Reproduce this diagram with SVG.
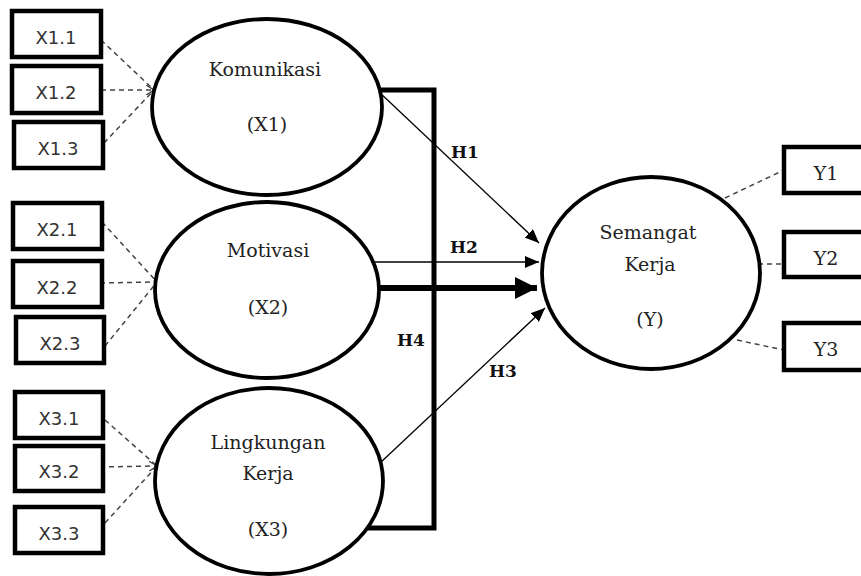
<svg xmlns="http://www.w3.org/2000/svg" width="861" height="576" viewBox="0 0 861 576">
<style>
.box{fill:#fff;stroke:#000;stroke-width:4.5}
.ell{fill:#fff;stroke:#000;stroke-width:3.8}
.bl{font-family:"DejaVu Sans",Verdana,sans-serif;font-size:18px;fill:#333;text-anchor:middle}
.yl{font-family:"DejaVu Serif","Liberation Serif",serif;font-size:19px;fill:#222;text-anchor:middle}
.et{font-family:"DejaVu Serif","Liberation Serif",serif;font-size:19px;fill:#222;text-anchor:middle}
.hl{font-family:"DejaVu Serif","Liberation Serif",serif;font-size:17px;font-weight:bold;fill:#111;text-anchor:middle}
.dash{stroke:#444;stroke-width:1.5;stroke-dasharray:5 4;fill:none}
.thin{stroke:#000;stroke-width:1.3;fill:none}
</style>
<defs>
<marker id="arr" markerUnits="userSpaceOnUse" markerWidth="16" markerHeight="12" refX="14" refY="6" orient="auto">
<path d="M0,0 L14,6 L0,12 Z" fill="#000"/>
</marker>
<marker id="arrBig" markerUnits="userSpaceOnUse" markerWidth="24" markerHeight="22" refX="22" refY="11" orient="auto">
<path d="M0,0 L22,11 L0,22 Z" fill="#000"/>
</marker>
<marker id="open" markerUnits="userSpaceOnUse" markerWidth="10" markerHeight="10" refX="8" refY="5" orient="auto">
<path d="M0,0 L8,5 L0,10" fill="none" stroke="#444" stroke-width="1.3"/>
</marker>
</defs>

<g id="connectors">
<line class="dash" x1="101" y1="40" x2="154" y2="90"/>
<line class="dash" x1="101" y1="90" x2="154" y2="90" marker-end="url(#open)"/>
<line class="dash" x1="104" y1="143" x2="154" y2="90"/>
<line class="dash" x1="102" y1="222" x2="157" y2="282"/>
<line class="dash" x1="100" y1="283" x2="157" y2="282"/>
<line class="dash" x1="105" y1="346" x2="157" y2="282"/>
<line class="dash" x1="105" y1="420" x2="157" y2="466"/>
<line class="dash" x1="100" y1="467" x2="157" y2="466" marker-end="url(#open)"/>
<line class="dash" x1="105" y1="523" x2="157" y2="466"/>
<line class="dash" x1="725" y1="198" x2="784" y2="170"/>
<line class="dash" x1="758" y1="264" x2="784" y2="264"/>
<line class="dash" x1="737" y1="340" x2="784" y2="350"/>
<path d="M370 90 H434 V528 H360" fill="none" stroke="#000" stroke-width="5"/>
<line class="thin" x1="378" y1="91" x2="539" y2="243" marker-end="url(#arr)"/>
<line class="thin" x1="375" y1="262" x2="539" y2="262" marker-end="url(#arr)"/>
<line x1="375" y1="288" x2="537" y2="288" stroke="#000" stroke-width="6" marker-end="url(#arrBig)"/>
<line class="thin" x1="380" y1="463" x2="545" y2="308" marker-end="url(#arr)"/>
<text class="hl" x="465" y="158">H1</text>
<text class="hl" x="464" y="253">H2</text>
<text class="hl" x="411" y="346">H4</text>
<text class="hl" x="503" y="377">H3</text>
</g>

<g id="X1.1"><rect class="box" x="12" y="11" width="89" height="46"/><text class="bl" x="56" y="44">X1.1</text></g>
<g id="X1.2"><rect class="box" x="12" y="66" width="89" height="47"/><text class="bl" x="56" y="99">X1.2</text></g>
<g id="X1.3"><rect class="box" x="14" y="122" width="89" height="46"/><text class="bl" x="58" y="155">X1.3</text></g>
<g id="X2.1"><rect class="box" x="13" y="203" width="89" height="46"/><text class="bl" x="57" y="236">X2.1</text></g>
<g id="X2.2"><rect class="box" x="13" y="261" width="89" height="46"/><text class="bl" x="57" y="294">X2.2</text></g>
<g id="X2.3"><rect class="box" x="16" y="317" width="88" height="46"/><text class="bl" x="60" y="350">X2.3</text></g>
<g id="X3.1"><rect class="box" x="15" y="392" width="88" height="46"/><text class="bl" x="59" y="425">X3.1</text></g>
<g id="X3.2"><rect class="box" x="15" y="446" width="88" height="45"/><text class="bl" x="59" y="478">X3.2</text></g>
<g id="X3.3"><rect class="box" x="15" y="507" width="88" height="46"/><text class="bl" x="59" y="540">X3.3</text></g>

<g id="Y1"><rect class="box" x="784" y="147" width="90" height="46"/><text class="yl" x="826" y="180">Y1</text></g>
<g id="Y2"><rect class="box" x="784" y="232" width="90" height="45"/><text class="yl" x="826" y="265">Y2</text></g>
<g id="Y3"><rect class="box" x="784" y="323" width="90" height="47"/><text class="yl" x="826" y="356">Y3</text></g>

<g id="X1"><ellipse class="ell" cx="267" cy="107" rx="115" ry="88"/><text class="et" x="265" y="76">Komunikasi</text><text class="et" x="267" y="131">(X1)</text></g>
<g id="X2"><ellipse class="ell" cx="267" cy="290" rx="112" ry="88"/><text class="et" x="268" y="257">Motivasi</text><text class="et" x="268" y="314">(X2)</text></g>
<g id="X3"><ellipse class="ell" cx="269" cy="481" rx="114" ry="93"/><text class="et" x="268" y="449">Lingkungan</text><text class="et" x="268" y="480">Kerja</text><text class="et" x="268" y="536">(X3)</text></g>
<g id="Y"><ellipse class="ell" cx="651" cy="273" rx="109" ry="96"/><text class="et" x="648" y="239">Semangat</text><text class="et" x="650" y="271">Kerja</text><text class="et" x="650" y="326">(Y)</text></g>
</svg>
